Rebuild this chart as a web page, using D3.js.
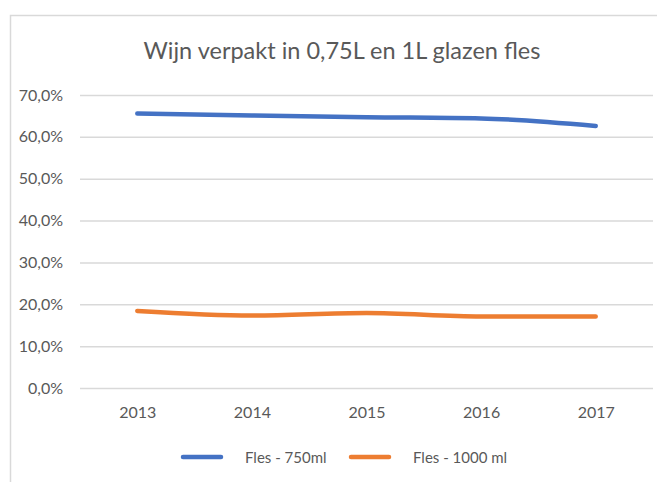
<!DOCTYPE html>
<html>
<head>
<meta charset="utf-8">
<script src="https://cdn.jsdelivr.net/npm/d3@7"></script>
<style>
  body { margin: 0; background: #fff; }
  text { font-family: Lato, "Liberation Sans", sans-serif; fill: #595959; }
</style>
</head>
<body>
<div id="chart"></div>
<script>
// data
var years = ["2013", "2014", "2015", "2016", "2017"];
var fles750 = [0.656, 0.651, 0.647, 0.644, 0.626];
var fles1000 = [0.184, 0.173, 0.179, 0.171, 0.171];
var seriesNames = ["Fles - 750ml", "Fles - 1000 ml"];
var yTicks = [0, 0.1, 0.2, 0.3, 0.4, 0.5, 0.6, 0.7];

var W = 657, H = 482;
var margin = {top: 95, right: 4, bottom: 94, left: 80},
    width = W - margin.left - margin.right,
    height = H - margin.top - margin.bottom;

var svg = d3.select("#chart")
  .append("svg")
    .attr("width", W)
    .attr("height", H);

// chart frame
svg.append("rect")
  .attr("x", 10.5).attr("y", 15.5)
  .attr("width", 700).attr("height", 500)
  .attr("fill", "none")
  .attr("stroke", "#d9d9d9")
  .attr("stroke-width", 1.5);

// title
svg.append("text")
  .attr("x", 342).attr("y", 59)
  .attr("text-anchor", "middle")
  .style("font-size", "23.5px")
  .text("Wijn verpakt in 0,75L en 1L glazen fles");

var g = svg.append("g")
  .attr("transform", "translate(" + margin.left + "," + margin.top + ")");

var x = d3.scalePoint()
  .domain(years)
  .range([0, width])
  .padding(0.5);

var y = d3.scaleLinear()
  .domain([0, 0.7])
  .range([height, 0]);

var pct = function(d) { return d3.format(".1f")(d * 100).replace(".", ",") + "%"; };

// gridlines + y labels
var yAxis = g.append("g")
  .call(d3.axisLeft(y).tickValues(yTicks).tickSize(-width).tickPadding(17).tickFormat(pct));
yAxis.select(".domain").remove();
yAxis.selectAll(".tick line").attr("stroke", "#d9d9d9").attr("stroke-width", 1.5);
yAxis.selectAll(".tick text")
  .style("font-size", "16px")
  .attr("fill", "#595959");

// x labels
var xAxis = g.append("g")
  .attr("transform", "translate(0," + height + ")")
  .call(d3.axisBottom(x).tickSize(0).tickPadding(19));
xAxis.select(".domain").remove();
xAxis.selectAll(".tick text")
  .style("font-size", "16px")
  .attr("fill", "#595959");

// lines
var colors = ["#4472c4", "#ed7d31"];
var data = [fles750, fles1000];

var line = d3.line()
  .x(function(d, i) { return x(years[i]); })
  .y(function(d) { return y(d); })
  .curve(d3.curveMonotoneX);

g.selectAll(".series")
  .data(data)
  .enter()
  .append("path")
    .attr("class", "series")
    .attr("d", line)
    .attr("fill", "none")
    .attr("stroke", function(d, i) { return colors[i]; })
    .attr("stroke-width", 4.5)
    .attr("stroke-linecap", "round")
    .attr("stroke-linejoin", "round");

// legend
var legendX = [183, 351];
var legend = svg.append("g")
  .selectAll("g")
  .data(seriesNames)
  .enter()
  .append("g")
    .attr("transform", function(d, i) { return "translate(" + legendX[i] + ",457)"; });

legend.append("line")
  .attr("x1", 0).attr("x2", 38)
  .attr("stroke", function(d, i) { return colors[i]; })
  .attr("stroke-width", 4.5)
  .attr("stroke-linecap", "round");

legend.append("text")
  .attr("x", 62).attr("y", 5.5)
  .style("font-size", "15px")
  .text(function(d) { return d; });
</script>
</body>
</html>
